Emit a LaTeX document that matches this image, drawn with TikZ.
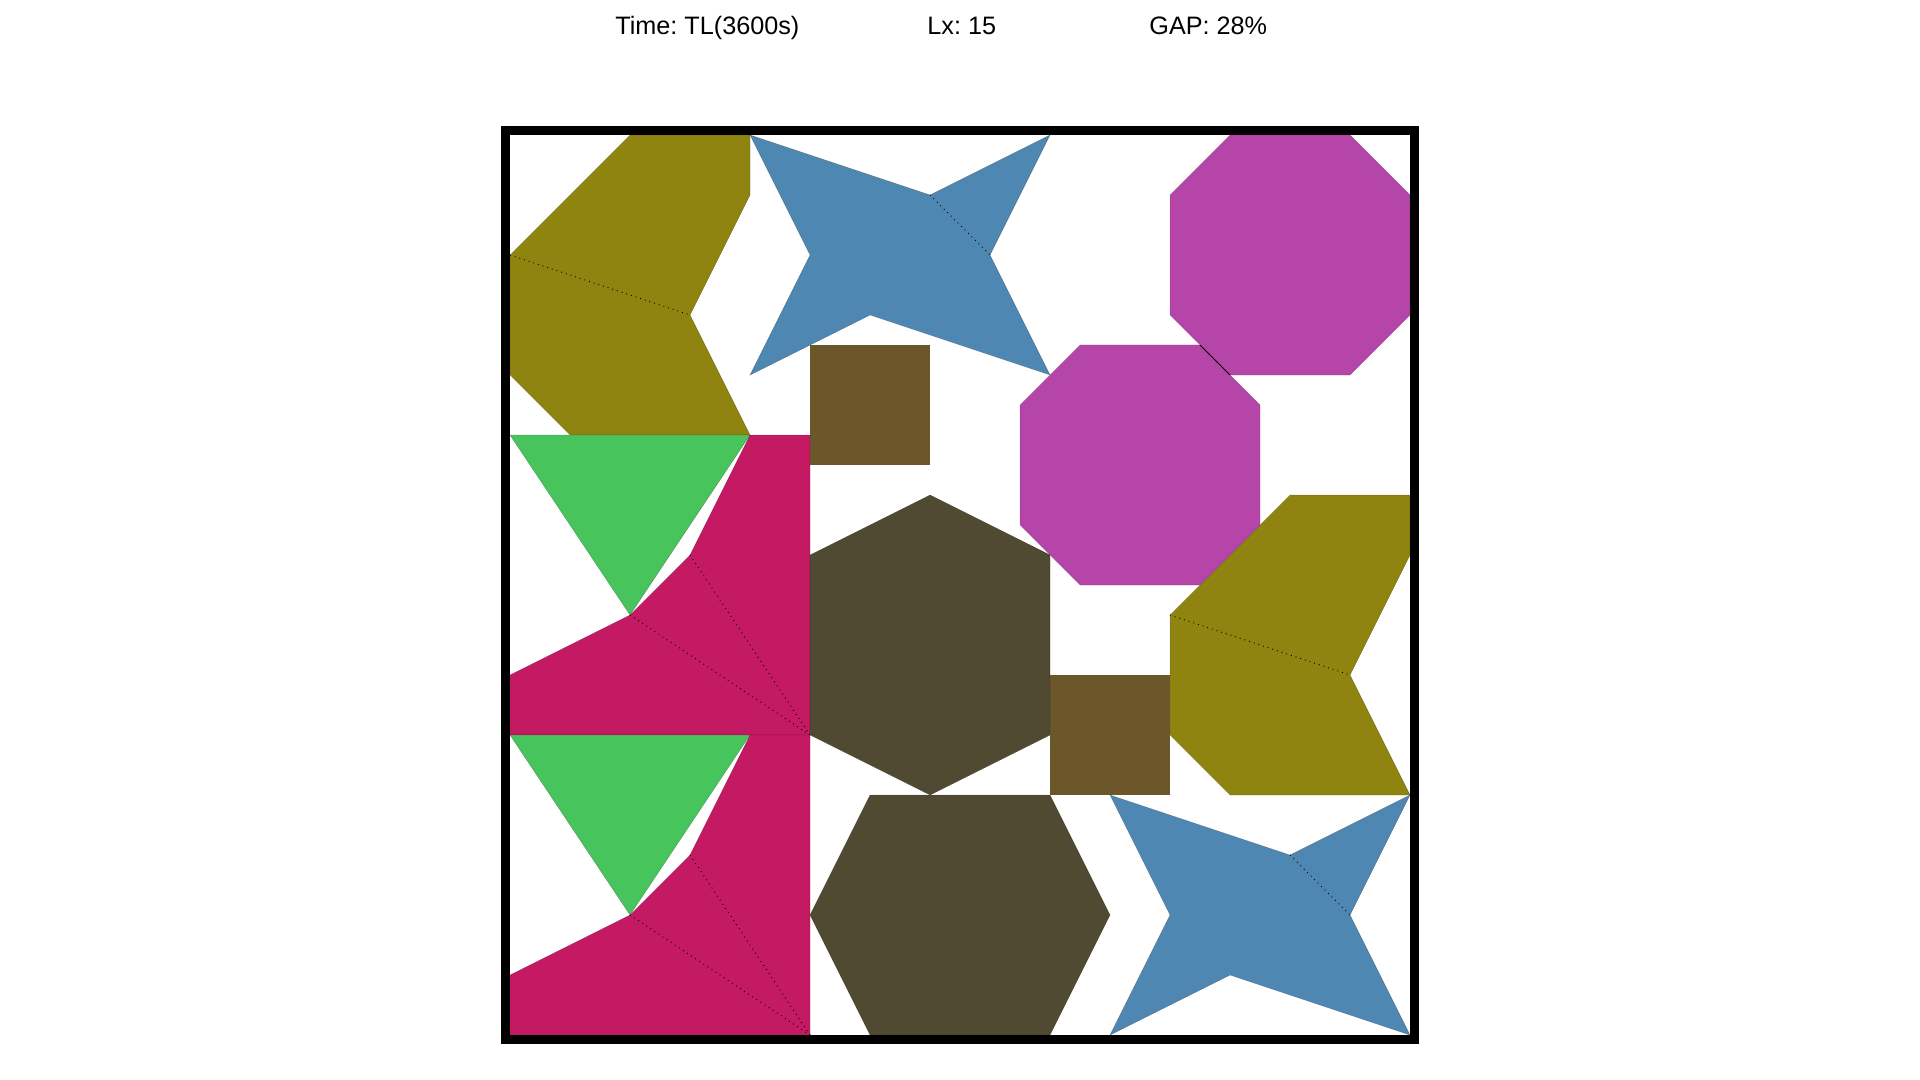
\documentclass[tikz,border=0pt]{standalone}
\usepackage{fontspec}
\setmainfont{Liberation Sans}
\frenchspacing
\definecolor{olivec}{RGB}{142,132,15}
\definecolor{bluec}{RGB}{79,135,179}
\definecolor{magc}{RGB}{181,69,169}
\definecolor{crimc}{RGB}{196,26,99}
\definecolor{greenc}{RGB}{72,196,92}
\definecolor{brownc}{RGB}{108,87,42}
\definecolor{hexc}{RGB}{81,74,50}
\tikzset{
  piece/.style={line width=0.15pt, draw=black, draw opacity=0.35},
  divider/.style={dotted, line width=0.45pt, draw=black},
  hdr/.style={anchor=base west, inner sep=0pt, font=\fontsize{12.6pt}{15pt}\selectfont},
}
\begin{document}
\begin{tikzpicture}[x=0.5pt,y=-0.5pt]
\useasboundingbox (0,0) rectangle (1920,1080);
\node[hdr] (time) at (615,35) {Time: TL(3600s)};
\node[hdr] (lx) at (927,35) {Lx: 15};
\node[hdr] (gap) at (1149,35) {GAP: 28\%};
\begin{scope}[shift={(510,135)}, x=30pt, y=-30pt]
  % olive chevrons
  \foreach \dx/\dy in {0/0, 11/6} {
    \begin{scope}[shift={(\dx,\dy)}]
      \filldraw[piece, fill=olivec] (2,0) -- (4,0) -- (4,1) -- (3,3) -- (4,5) -- (1,5) -- (0,4) -- (0,2) -- cycle;
      \draw[divider] (0,2) -- (3,3);
    \end{scope}
  }
  % blue stars
  \foreach \dx/\dy in {0/0, 6/11} {
    \begin{scope}[shift={(\dx,\dy)}]
      \filldraw[piece, fill=bluec] (4,0) -- (7,1) -- (9,0) -- (8,2) -- (9,4) -- (6,3) -- (4,4) -- (5,2) -- cycle;
      \draw[divider] (7,1) -- (8,2);
    \end{scope}
  }
  % brown squares
  \fill[brownc] (5,3.5) rectangle (7,5.5);
  \fill[brownc] (9,9) rectangle (11,11);
  % magenta octagons
  \filldraw[piece, fill=magc] (12,0) -- (14,0) -- (15,1) -- (15,3) -- (14,4) -- (12,4) -- (11,3) -- (11,1) -- cycle;
  \filldraw[piece, fill=magc] (9.5,3.5) -- (11.5,3.5) -- (12.5,4.5) -- (12.5,6.5) -- (11.5,7.5) -- (9.5,7.5) -- (8.5,6.5) -- (8.5,4.5) -- cycle;
  \draw[line width=0.5pt] (11.5,3.5) -- (12,4);
  % green triangles and crimson shapes
  \foreach \dy in {0,5} {
    \begin{scope}[shift={(0,\dy)}]
      \filldraw[piece, fill=greenc] (0,5) -- (4,5) -- (2,8) -- cycle;
      \filldraw[piece, fill=crimc] (4,5) -- (5,5) -- (5,10) -- (0,10) -- (0,9) -- (2,8) -- (3,7) -- cycle;
      \draw[divider] (3,7) -- (5,10);
      \draw[divider] (2,8) -- (5,10);
    \end{scope}
  }
  % hexagons
  \filldraw[piece, fill=hexc] (7,6) -- (9,7) -- (9,10) -- (7,11) -- (5,10) -- (5,7) -- cycle;
  \filldraw[piece, fill=hexc] (6,11) -- (9,11) -- (10,13) -- (9,15) -- (6,15) -- (5,13) -- cycle;
\end{scope}
% frame
\draw[line width=4.5pt] (505.5,130.5) rectangle (1414.5,1039.5);
\end{tikzpicture}
\end{document}
